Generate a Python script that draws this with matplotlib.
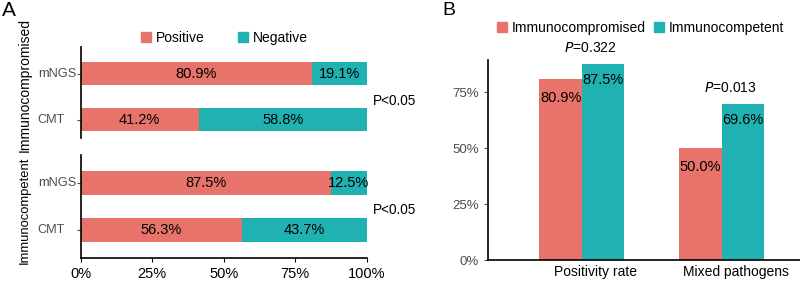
import matplotlib.pyplot as plt
from matplotlib.patches import Patch
from matplotlib.transforms import blended_transform_factory

plt.rcParams["font.family"] = ["Liberation Sans", "DejaVu Sans"]

RED = "#E8736A"
TEAL = "#20B2B3"
GREY = "#4D4D4D"

# panel A data
methods = ["CMT", "mNGS"]
compromised_pos = [41.2, 80.9]
compromised_neg = [58.8, 19.1]
competent_pos = [56.3, 87.5]
competent_neg = [43.7, 12.5]
x_ticks_a = [0, 25, 50, 75, 100]

# panel B data
categories = ["Positivity rate", "Mixed pathogens"]
immunocompromised = [80.9, 50.0]
immunocompetent = [87.5, 69.6]
p_values = ["0.322", "0.013"]
y_ticks_b = [0, 25, 50, 75]

fig = plt.figure(figsize=(8.0, 2.82), dpi=100)


def stacked(ax, pos, neg, ylim):
    ys = list(range(len(methods)))
    ax.barh(ys, pos, height=0.5, color=RED)
    ax.barh(ys, neg, left=pos, height=0.5, color=TEAL)
    for y, p, n in zip(ys, pos, neg):
        ax.text(p / 2, y, f"{p:.1f}%", ha="center", va="center", fontsize=10.5)
        ax.text(p + n / 2, y, f"{n:.1f}%", ha="center", va="center", fontsize=10.5)
    ax.set_xlim(0, 100)
    ax.set_ylim(*ylim)
    ax.set_yticks(ys)
    ax.set_yticklabels([])
    trans = blended_transform_factory(ax.transAxes, ax.transData)
    # left-aligned method labels, as in the original
    for y, m in zip(ys, methods):
        ax.annotate(m, (0, y), xycoords=trans, xytext=(-31, 0), textcoords="offset points",
                    ha="left", va="center", fontsize=9.2, color=GREY)
    for s in ("top", "right"):
        ax.spines[s].set_visible(False)
    ax.spines["left"].set_linewidth(1.2)
    ax.tick_params(axis="y", length=3, width=0.8, color=GREY)
    ax.text(1.02, 0.42, "P<0.05", transform=trans, ha="left", va="center", fontsize=9.8)


ax_top = fig.add_axes([0.101, 0.511, 0.3575, 0.323])
stacked(ax_top, compromised_pos, compromised_neg, (-0.39, 1.59))
ax_top.spines["bottom"].set_visible(False)
ax_top.set_xticks([])

ax_bot = fig.add_axes([0.101, 0.085, 0.3575, 0.365])
stacked(ax_bot, competent_pos, competent_neg, (-0.6, 1.6))
ax_bot.spines["bottom"].set_linewidth(1.2)
ax_bot.set_xticks(x_ticks_a)
ax_bot.set_xticklabels([f"{t}%" for t in x_ticks_a], fontsize=10.5)
ax_bot.tick_params(axis="x", length=3, width=0.8)

fig.text(0.031, 0.70, "Immunocompromised", rotation=90, ha="center", va="center", fontsize=10)
fig.text(0.031, 0.255, "Immunocompetent", rotation=90, ha="center", va="center", fontsize=9.4)

fig.legend(handles=[Patch(color=RED, label="Positive"), Patch(color=TEAL, label="Negative")],
           loc="center", bbox_to_anchor=(0.28, 0.865), ncol=2, frameon=False,
           fontsize=10, handlelength=0.72, handleheight=0.72, handletextpad=0.35,
           columnspacing=2.4)

fig.text(0.003, 0.962, "A", fontsize=15, va="center")
fig.text(0.553, 0.962, "B", fontsize=14, va="center")

# panel B
axb = fig.add_axes([0.61, 0.078, 0.39, 0.709])
xs = list(range(len(categories)))
w = 0.302
axb.bar([x - w / 2 for x in xs], immunocompromised, width=w, color=RED)
axb.bar([x + w / 2 for x in xs], immunocompetent, width=w, color=TEAL)
for x, a, b, p in zip(xs, immunocompromised, immunocompetent, p_values):
    axb.annotate(f"{a:.1f}%", (x - w / 2, a), xytext=(0, -13.7), textcoords="offset points",
                 ha="center", va="center", fontsize=10.5)
    axb.annotate(f"{b:.1f}%", (x + w / 2, b), xytext=(0, -11.2), textcoords="offset points",
                 ha="center", va="center", fontsize=10.5)
    axb.annotate(f"$P$=" + p, (x, max(a, b)), xytext=(6.5, 11.5), textcoords="offset points",
                 ha="center", va="center", fontsize=10)
    axb.annotate(categories[x], (x, 0), xytext=(10, -8.6), textcoords="offset points",
                 ha="center", va="center", fontsize=10)
axb.set_xlim(-0.67, 1.56)
axb.set_ylim(0, 89.3)
axb.set_yticks(y_ticks_b)
axb.set_yticklabels([f"{t}%" for t in y_ticks_b], color=GREY, fontsize=9.5)
axb.set_xticks([])
axb.tick_params(axis="y", length=3, width=0.8, color=GREY)
for s in ("top", "right"):
    axb.spines[s].set_visible(False)
axb.spines["left"].set_linewidth(1.2)
axb.spines["bottom"].set_linewidth(1.2)

fig.legend(handles=[Patch(color=RED, label="Immunocompromised"), Patch(color=TEAL, label="Immunocompetent")],
           loc="center", bbox_to_anchor=(0.8006, 0.9), ncol=2, frameon=False,
           fontsize=10, handlelength=0.72, handleheight=0.72, handletextpad=0.36,
           columnspacing=0.58)

fig.savefig("out.png", dpi=100)
